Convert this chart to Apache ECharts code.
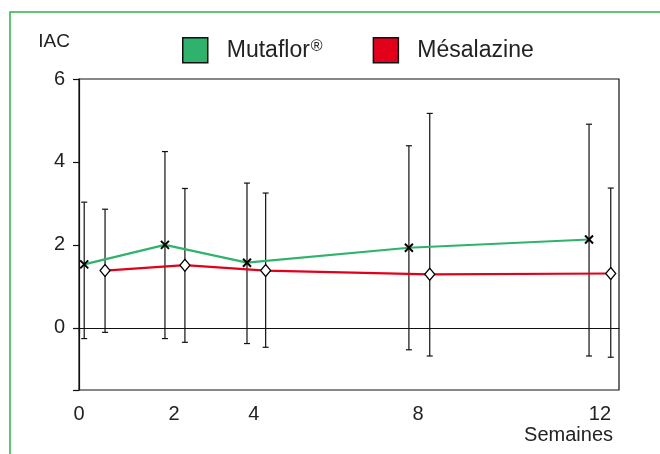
<!DOCTYPE html>
<html>
<head>
<meta charset="utf-8">
<script src="https://cdn.jsdelivr.net/npm/echarts@6/dist/echarts.min.js"></script>
<style>
  html, body { margin: 0; padding: 0; background: #fff; }
  #chart { width: 660px; height: 454px; }
</style>
</head>
<body>
<div id="chart"></div>
<script>
// semaines (positions, légèrement décalées par groupe)
const weeksMuta = [0.12, 1.98, 3.87, 7.6, 11.75];
const weeksMesa = [0.6, 2.44, 4.3, 8.08, 12.25];
// IAC moyen et barres d'erreur
const muta = [1.53, 2.0, 1.57, 1.93, 2.13];
const mutaHigh = [3.03, 4.25, 3.49, 4.39, 4.91];
const mutaLow = [-0.26, -0.26, -0.38, -0.53, -0.68];
const mesa = [1.38, 1.51, 1.38, 1.29, 1.31];
const mesaHigh = [2.86, 3.36, 3.25, 5.17, 3.37];
const mesaLow = [-0.11, -0.35, -0.47, -0.68, -0.71];
// graduations
const xTickPos = [0, 2.19, 4.03, 7.81, 12];
const xTickLabels = ["0", "2", "4", "8", "12"];
const yTickLabels = [0, 2, 4, 6];
const yTicks = [-1.5, 0, 2, 4, 6];

const FONT = "Liberation Sans";
const GREEN = "#2fb36c";
const RED = "#e2001a";

// barres d'erreur
function errorSeries(name, xs, lows, highs) {
  return {
    name: name,
    type: "custom",
    z: 1,
    silent: true,
    data: xs.map((x, i) => [x, lows[i], highs[i]]),
    renderItem: function (params, api) {
      const lo = api.coord([api.value(0), api.value(1)]);
      const hi = api.coord([api.value(0), api.value(2)]);
      const w = 3;
      const style = { stroke: "#111", lineWidth: 1.2 };
      return {
        type: "group",
        children: [
          { type: "line", shape: { x1: lo[0], y1: lo[1], x2: hi[0], y2: hi[1] }, style: style },
          { type: "line", shape: { x1: lo[0] - w, y1: lo[1], x2: lo[0] + w, y2: lo[1] }, style: style },
          { type: "line", shape: { x1: hi[0] - w, y1: hi[1], x2: hi[0] + w, y2: hi[1] }, style: style },
        ],
      };
    },
  };
}

const chart = echarts.init(document.getElementById("chart"));
chart.setOption({
  animation: false,
  graphic: [
    {
      type: "rect",
      shape: { x: 10, y: 12, width: 700, height: 500 },
      style: { fill: "none", stroke: "#2db34a", lineWidth: 1.5 },
      silent: true,
    },
    {
      // titre de l'axe des x, sous le dernier repère
      type: "text",
      right: 47,
      top: 425,
      style: { text: "Semaines", fontFamily: FONT, fontSize: 20, fill: "#222" },
      silent: true,
    },
  ],
  legend: {
    left: 177,
    top: 32,
    itemWidth: 25,
    itemHeight: 25,
    itemGap: 50,
    selectedMode: false,
    textStyle: {
      fontFamily: FONT,
      fontSize: 23,
      color: "#222",
      padding: [0, 0, 0, 14],
      rich: {
        sup: { fontFamily: FONT, fontSize: 16, verticalAlign: "top", padding: [0, 0, 8, 1], color: "#222" },
      },
    },
    formatter: function (name) {
      return name === "Mutaflor®" ? "Mutaflor{sup|®}" : name;
    },
    data: [
      { name: "Mutaflor®", icon: "rect", itemStyle: { color: GREEN, borderColor: "#111", borderWidth: 1.5 } },
      { name: "Mésalazine", icon: "rect", itemStyle: { color: RED, borderColor: "#111", borderWidth: 1.5 } },
    ],
  },
  grid: {
    left: 79,
    top: 79,
    right: 41,
    bottom: 64,
    show: true,
    borderColor: "#111",
    borderWidth: 1.2,
  },
  xAxis: {
    type: "value",
    min: 0,
    max: 12.44,
    axisLine: { show: true, lineStyle: { color: "#111", width: 1.2 } },
    axisTick: { show: true, length: 6, customValues: [0], lineStyle: { color: "#111", width: 1.2 } },
    axisLabel: {
      customValues: xTickPos,
      formatter: function (v) {
        const i = xTickPos.indexOf(v);
        return i >= 0 ? xTickLabels[i] : "";
      },
      fontFamily: FONT,
      fontSize: 20,
      color: "#222",
      margin: 14,
    },
    splitLine: { show: false },
  },
  yAxis: {
    type: "value",
    min: -1.5,
    max: 6,
    name: "IAC",
    nameLocation: "end",
    nameGap: 28,
    nameTextStyle: {
      fontFamily: FONT,
      fontSize: 19,
      color: "#222",
      align: "right",
      padding: [0, 9, 0, 0],
    },
    axisLine: { show: true, lineStyle: { color: "#111", width: 1.2 } },
    axisTick: { show: true, length: 6, customValues: yTicks, lineStyle: { color: "#111", width: 1.2 } },
    axisLabel: {
      customValues: yTickLabels,
      fontFamily: FONT,
      fontSize: 20,
      color: "#222",
      margin: 14,
    },
    splitLine: { show: false },
  },
  series: [
    errorSeries("errMuta", weeksMuta, mutaLow, mutaHigh),
    errorSeries("errMesa", weeksMesa, mesaLow, mesaHigh),
    {
      name: "Mutaflor®",
      type: "line",
      z: 3,
      color: GREEN,
      data: weeksMuta.map((x, i) => [x, muta[i]]),
      lineStyle: { color: GREEN, width: 2.2 },
      symbol: "path://M0,0L10,10M10,0L0,10",
      symbolSize: 8,
      itemStyle: { color: "none", borderColor: "#000", borderWidth: 2 },
      markLine: {
        silent: true,
        symbol: "none",
        label: { show: false },
        lineStyle: { color: "#111", width: 1.2, type: "solid" },
        data: [{ yAxis: 0 }],
      },
    },
    {
      name: "Mésalazine",
      type: "line",
      z: 3,
      color: RED,
      data: weeksMesa.map((x, i) => [x, mesa[i]]),
      lineStyle: { color: RED, width: 2.2 },
      symbol: "diamond",
      symbolSize: [10, 12],
      itemStyle: { color: "#fff", borderColor: "#000", borderWidth: 1.3 },
    },
  ],
});
</script>
</body>
</html>
